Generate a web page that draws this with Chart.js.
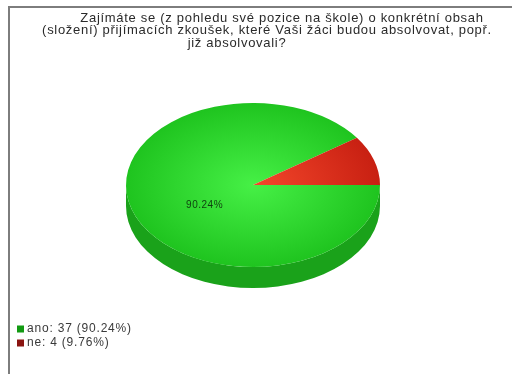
<!DOCTYPE html>
<html lang="cs">
<head>
    <meta charset="UTF-8">
    <title>Přijímací zkoušky</title>
    <script src="https://cdn.jsdelivr.net/npm/chart.js"></script>
    <style>
        body { margin: 0; background: #fff; }
        canvas { display: block; }
    </style>
</head>
<body>
    <canvas id="pieChart" width="512" height="374"></canvas>

    <script>
        // answers and counts
        const labels = ['ano', 'ne'];
        const counts = [37, 4];
        const percents = [90.24, 9.76];

        const titleLines = [
            'Zajímáte se (z pohledu své pozice na škole) o konkrétní obsah',
            '(složení) přijímacích zkoušek, které Vaši žáci budou absolvovat, popř.',
            'již absolvovali?'
        ];

        // face colours (centre -> rim), side colour, legend swatch
        const faceInner = ['#46f046', '#f4472b'];
        const faceOuter = ['#1fc41f', '#c82012'];
        const sideColors = ['#1aa21a', '#a01a10'];
        const swatchColors = ['#129a12', '#8a1410'];

        const tilt = 0.646;   // vertical squash of the pie
        const depth = 21;     // thickness of the pie in px

        function faceGradient(context) {
            const chart = context.chart;
            const area = chart.chartArea;
            if (!area) return faceOuter[context.dataIndex];
            const cx = (area.left + area.right) / 2;
            const cy = (area.top + area.bottom) / 2;
            const r = Math.min(area.right - area.left, area.bottom - area.top) / 2;
            const g = chart.ctx.createRadialGradient(cx, cy, 0, cx, cy, r);
            g.addColorStop(0, faceInner[context.dataIndex]);
            g.addColorStop(1, faceOuter[context.dataIndex]);
            return g;
        }

        // frame, title, 3d side, squash, labels and legend
        const pie3d = {
            id: 'pie3d',
            beforeDraw(chart) {
                const ctx = chart.ctx;
                ctx.save();
                ctx.strokeStyle = '#7d7d7d';
                ctx.lineWidth = 2;
                ctx.beginPath();
                ctx.moveTo(9, 374);
                ctx.lineTo(9, 7);
                ctx.lineTo(512, 7);
                ctx.stroke();

                ctx.fillStyle = '#2a2a2a';
                ctx.font = '13px "Liberation Sans", Arial, sans-serif';
                ctx.letterSpacing = '0.7px';
                ctx.textAlign = 'center';
                ctx.textBaseline = 'middle';
                const centres = [282, 267, 237];
                titleLines.forEach((line, i) => {
                    ctx.fillText(line, centres[i], 18 + i * 12.5);
                });
                ctx.restore();
            },
            beforeDatasetsDraw(chart) {
                const ctx = chart.ctx;
                const arcs = chart.getDatasetMeta(0).data;
                ctx.save();
                // side wall, only the front half is visible
                arcs.forEach((arc, i) => {
                    const a0 = Math.max(arc.startAngle, 0);
                    const a1 = Math.min(arc.endAngle, Math.PI);
                    if (a1 <= a0) return;
                    const r = arc.outerRadius;
                    ctx.beginPath();
                    ctx.ellipse(arc.x, arc.y + depth, r, r * tilt, 0, a0, a1);
                    ctx.ellipse(arc.x, arc.y, r, r * tilt, 0, a1, a0, true);
                    ctx.closePath();
                    ctx.fillStyle = sideColors[i];
                    ctx.fill();
                });
                ctx.restore();

                const arc = arcs[0];
                ctx.save();
                ctx.translate(arc.x, arc.y);
                ctx.scale(1, tilt);
                ctx.translate(-arc.x, -arc.y);
            },
            afterDatasetsDraw(chart) {
                const ctx = chart.ctx;
                ctx.restore();

                const arcs = chart.getDatasetMeta(0).data;
                ctx.save();
                ctx.fillStyle = '#0f3f0f';
                ctx.font = '10px "Liberation Sans", Arial, sans-serif';
                ctx.letterSpacing = '0.5px';
                ctx.textAlign = 'center';
                ctx.textBaseline = 'top';
                arcs.forEach((arc, i) => {
                    if (percents[i] < 10) return;
                    const mid = (arc.startAngle + arc.endAngle) / 2;
                    const r = arc.outerRadius * 0.4;
                    const x = arc.x + Math.cos(mid) * r;
                    const y = arc.y + Math.sin(mid) * r * tilt;
                    ctx.fillText(percents[i].toFixed(2) + '%', x, y + 5);
                });
                ctx.restore();
            },
            afterDraw(chart) {
                const ctx = chart.ctx;
                ctx.save();
                ctx.font = '12px "Liberation Sans", Arial, sans-serif';
                ctx.letterSpacing = '0.8px';
                ctx.textBaseline = 'middle';
                ctx.textAlign = 'left';
                labels.forEach((lab, i) => {
                    const y = 329 + i * 14;
                    ctx.fillStyle = swatchColors[i];
                    ctx.fillRect(17, y - 3.5, 7, 7);
                    ctx.fillStyle = '#3a3a3a';
                    ctx.fillText(lab + ': ' + counts[i] + ' (' + percents[i].toFixed(2) + '%)', 27, y);
                });
                ctx.restore();
            }
        };

        new Chart(document.getElementById('pieChart'), {
            type: 'pie',
            data: {
                labels: labels,
                datasets: [{
                    data: counts,
                    backgroundColor: faceGradient,
                    borderWidth: 0,
                    hoverOffset: 0
                }]
            },
            options: {
                responsive: false,
                animation: false,
                rotation: 90,
                layout: {
                    padding: { top: 58, bottom: 62, left: 20, right: 26 }
                },
                plugins: {
                    legend: { display: false },
                    title: { display: false },
                    tooltip: { enabled: false }
                }
            },
            plugins: [pie3d]
        });
    </script>
</body>
</html>
